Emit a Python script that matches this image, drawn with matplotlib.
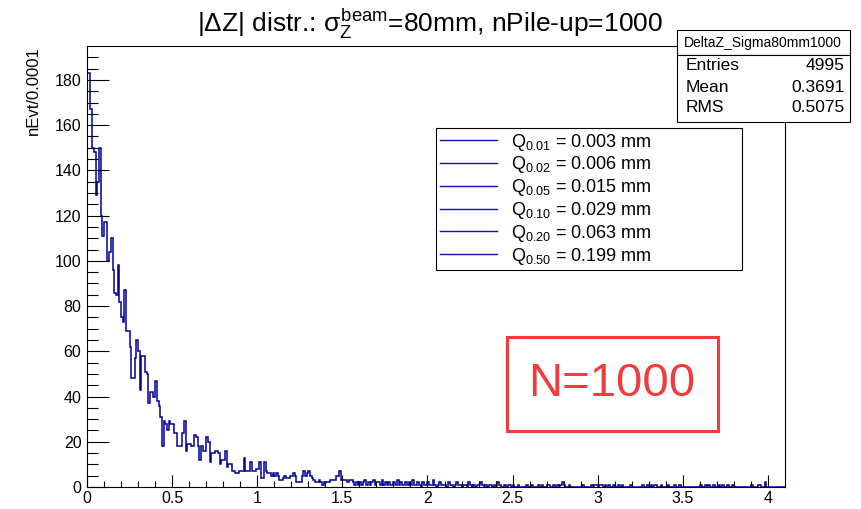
import numpy as np
import matplotlib
matplotlib.use("Agg")
import matplotlib.pyplot as plt
from matplotlib.lines import Line2D
from matplotlib.patches import Rectangle

plt.rcParams['font.family'] = ['Liberation Sans', 'DejaVu Sans']
plt.rcParams['mathtext.fontset'] = 'custom'
plt.rcParams['mathtext.rm'] = 'Liberation Sans'
plt.rcParams['mathtext.it'] = 'Liberation Sans'
plt.rcParams['mathtext.bf'] = 'Liberation Sans:bold'

# |dZ| histogram, 0.01 wide bins from 0 to 4.1
bin_edges = np.round(np.arange(0, 4.1001, 0.01), 3)
counts = [
    183, 183, 167, 150, 148, 129, 135, 150, 120, 111,
    117, 117, 100, 104, 110, 96, 86, 85, 98, 82,
    75, 73, 87, 69, 69, 62, 48, 48, 57, 65,
    60, 43, 58, 58, 51, 50, 37, 42, 42, 40,
    47, 38, 36, 31, 18, 29, 28, 25, 29, 28,
    28, 24, 24, 18, 18, 18, 24, 29, 16, 19,
    19, 18, 18, 23, 22, 18, 12, 18, 16, 16,
    22, 20, 11, 15, 15, 16, 16, 15, 10, 12,
    12, 16, 9, 10, 10, 7, 7, 6, 6, 7,
    7, 7, 13, 7, 7, 7, 11, 7, 7, 8,
    8, 11, 4, 4, 11, 7, 6, 6, 5, 6,
    5, 6, 5, 3, 3, 4, 5, 4, 4, 5,
    5, 6, 5, 2, 2, 2, 5, 7, 5, 6,
    7, 5, 4, 3, 2, 2, 3, 2, 1, 2,
    2, 2, 2, 3, 3, 3, 5, 5, 7, 3,
    3, 3, 3, 2, 3, 3, 2, 1, 2, 1,
    2, 1, 2, 3, 1, 2, 1, 2, 3, 1,
    2, 2, 1, 3, 1, 2, 1, 2, 1, 1,
    2, 1, 3, 1, 2, 1, 1, 2, 1, 2,
    1, 3, 1, 1, 2, 1, 0, 2, 1, 1,
    2, 1, 1, 3, 1, 0, 1, 2, 1, 1,
    1, 0, 2, 1, 1, 0, 1, 2, 1, 1,
    0, 1, 1, 0, 2, 1, 0, 1, 0, 1,
    1, 2, 1, 0, 1, 0, 1, 1, 0, 1,
    0, 2, 1, 0, 0, 1, 0, 1, 1, 0,
    1, 0, 0, 1, 0, 0, 0, 0, 1, 0,
    0, 1, 0, 0, 0, 1, 0, 1, 0, 0,
    1, 1, 0, 0, 1, 0, 1, 0, 1, 2,
    1, 0, 0, 1, 0, 0, 0, 0, 0, 0,
    0, 1, 0, 0, 0, 0, 1, 0, 1, 1,
    0, 1, 1, 0, 1, 0, 1, 0, 0, 1,
    0, 0, 1, 0, 1, 0, 0, 0, 0, 1,
    0, 0, 0, 0, 0, 0, 1, 0, 0, 1,
    0, 1, 0, 1, 1, 0, 0, 1, 0, 0,
    0, 1, 0, 0, 0, 1, 0, 0, 1, 0,
    0, 0, 0, 0, 0, 0, 0, 0, 0, 0,
    1, 0, 0, 1, 0, 1, 0, 0, 1, 0,
    0, 1, 0, 1, 0, 0, 1, 0, 0, 1,
    0, 0, 0, 0, 0, 0, 0, 0, 0, 0,
    1, 0, 0, 0, 1, 1, 0, 0, 2, 0,
    0, 0, 0, 0, 0, 0, 0, 0, 0, 0,
]

quantile_levels = ['0.01', '0.02', '0.05', '0.10', '0.20', '0.50']
quantile_values = ['0.003', '0.006', '0.015', '0.029', '0.063', '0.199']

stat_names = ['Entries', 'Mean', 'RMS']
stat_values = ['4995', '0.3691', '0.5075']

W, H = 861, 509
fig = plt.figure(figsize=(W / 100, H / 100), dpi=100)
ax = fig.add_axes([87 / W, 1 - 487 / H, (785 - 87) / W, (487 - 46) / H])

ax.stairs(counts, bin_edges, color='#000099', lw=1.1, baseline=0)

ax.set_xlim(0, 4.1)
ax.set_ylim(0, 195)
xt = np.arange(0, 4.01, 0.5)
ax.set_xticks(xt, ['%g' % v for v in xt])
ax.set_xticks(np.arange(0, 4.1, 0.1), minor=True)
ax.set_yticks(np.arange(0, 181, 20))
ax.set_yticks(np.arange(0, 195, 5), minor=True)
ax.tick_params(axis='both', which='both', direction='in', width=0.8,
               labelsize=11.5, top=False, right=False)
ax.tick_params(axis='y', which='major', length=16, pad=4)
ax.tick_params(axis='y', which='minor', length=7.7)
ax.tick_params(axis='x', which='major', length=9, pad=3)
ax.tick_params(axis='x', which='minor', length=4.5)
for s in ax.spines.values():
    s.set_linewidth(0.8)

# title and y axis title
fig.text(430 / W, 1 - 24 / H,
         r'|$\Delta$Z| distr.: $\sigma_{\mathrm{Z}}^{\mathrm{beam}}$=80mm, nPile-up=1000',
         ha='center', va='center', fontsize=19)
fig.text(33 / W, 1 - 46 / H, 'nEvt/0.0001', rotation=90, ha='center', va='top',
         fontsize=12)

# quantile legend
handles = [Line2D([], [], color='#1010c0', lw=1.0) for _ in quantile_levels]
labels = [r'Q$_{%s}$ = %s mm' % (q, v) for q, v in zip(quantile_levels, quantile_values)]
leg = ax.legend(handles, labels, loc='upper left',
                bbox_to_anchor=(436 / W, 1 - 133 / H, (742 - 436) / W, 0.01),
                bbox_transform=fig.transFigure, mode='expand', fontsize=13,
                frameon=True, fancybox=False, framealpha=1, edgecolor='black',
                handlelength=3.2, handletextpad=0.75, labelspacing=0.1,
                borderpad=0.2, borderaxespad=0)
leg.get_frame().set_linewidth(0.8)

# stats box
def fig_rect(x0, y0, x1, y1, **kw):
    fig.patches.append(Rectangle((x0 / W, 1 - y1 / H), (x1 - x0) / W, (y1 - y0) / H,
                                 transform=fig.transFigure, **kw))

fig_rect(677, 30, 850, 55, facecolor='white', edgecolor='black', lw=0.8)
fig_rect(677, 55, 850, 122, facecolor='white', edgecolor='black', lw=0.8)
fig.text(763 / W, 1 - 43 / H, 'DeltaZ_Sigma80mm1000', ha='center', va='center',
         fontsize=10)
for i, (n, v) in enumerate(zip(stat_names, stat_values)):
    y = 1 - (66 + 21 * i) / H
    fig.text(686 / W, y, n, ha='left', va='center', fontsize=12.5)
    fig.text(845 / W, y, v, ha='right', va='center', fontsize=12.5)

# sample size label
red = '#f03c3c'
fig_rect(507, 337, 718, 431, facecolor='white', edgecolor=red, lw=2.2)
fig.text(612 / W, 1 - 384 / H, 'N=1000', ha='center', va='center', fontsize=34,
         color=red)

fig.savefig('out.png', dpi=100)
